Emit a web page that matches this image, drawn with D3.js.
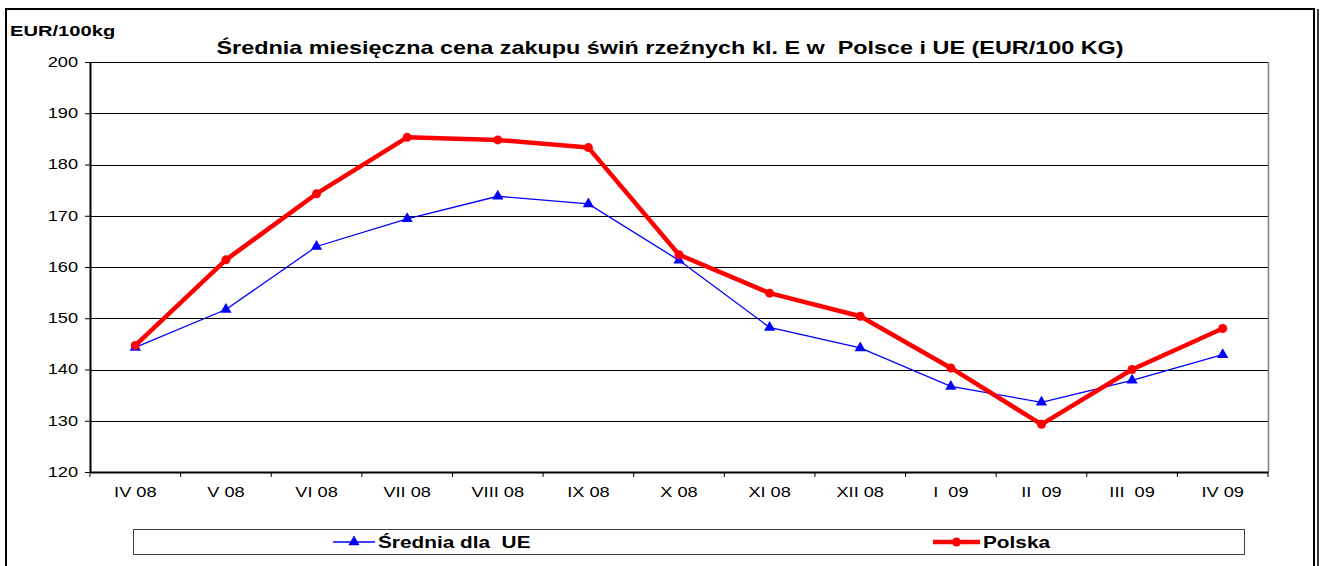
<!DOCTYPE html>
<html>
<head>
<meta charset="utf-8">
<script src="https://cdn.jsdelivr.net/npm/d3@7"></script>
<style>
  body { margin: 0; background: #fff; }
  svg { display: block; font-family: "Liberation Sans", Arial, sans-serif; }
  text { white-space: pre; }
</style>
</head>
<body>
<div id="chart"></div>
<script>
const months = ["IV 08", "V 08", "VI 08", "VII 08", "VIII 08", "IX 08", "X 08", "XI 08", "XII 08", "I  09", "II  09", "III  09", "IV 09"];
const euValues = [144.3, 151.7, 164.0, 169.4, 173.8, 172.3, 161.3, 148.2, 144.2, 136.7, 133.6, 137.9, 142.9];
const plValues = [144.7, 161.4, 174.3, 185.3, 184.8, 183.3, 162.4, 154.9, 150.4, 140.3, 129.3, 140.0, 148.0];
const yTicks = [120, 130, 140, 150, 160, 170, 180, 190, 200];
const seriesNames = ["Średnia dla  UE", "Polska"];

const width = 1324, height = 566;
const margin = {left: 90, right: 56, top: 62, bottom: 94};
const stretch = 1.3; // the original font renders wide

const svg = d3.select("#chart").append("svg")
    .attr("width", width)
    .attr("height", height);

// wide text: place at (x,y), scale horizontally
const wideText = (parent, x, y, size, bold, anchor, str) =>
    parent.append("text")
        .attr("transform", `translate(${x},${y}) scale(${stretch},1)`)
        .attr("text-anchor", anchor)
        .attr("font-size", size)
        .attr("font-weight", bold ? "bold" : "normal")
        .attr("fill", "#000")
        .text(str);

// outer frame
svg.append("path")
    .attr("d", `M6,${height + 5} V9 H1314 V${height + 5}`)
    .attr("fill", "none").attr("stroke", "#000").attr("stroke-width", 2);
svg.append("line")
    .attr("x1", 1318).attr("x2", 1318).attr("y1", 9).attr("y2", height + 5)
    .attr("stroke", "#000").attr("stroke-width", 1.5);

const x = d3.scaleBand()
    .domain(months)
    .range([margin.left, width - margin.right]);

const y = d3.scaleLinear()
    .domain([120, 200])
    .range([height - margin.bottom, margin.top]);

// gridlines
svg.append("g")
    .selectAll("line")
    .data(yTicks)
    .join("line")
    .attr("x1", margin.left).attr("x2", width - margin.right)
    .attr("y1", (d) => Math.round(y(d)) + 0.5).attr("y2", (d) => Math.round(y(d)) + 0.5)
    .attr("stroke", "#000").attr("stroke-width", 1);

// plot right border
svg.append("line")
    .attr("x1", width - margin.right + 0.5).attr("x2", width - margin.right + 0.5)
    .attr("y1", y(200)).attr("y2", y(120))
    .attr("stroke", "#808080").attr("stroke-width", 1.5);

// y axis
const yAxis = svg.append("g")
    .attr("transform", `translate(${margin.left},0)`)
    .call(d3.axisLeft(y).tickValues(yTicks).tickSize(5).tickSizeOuter(0).tickPadding(6));
yAxis.select(".domain").attr("stroke-width", 2);
yAxis.selectAll("text")
    .attr("font-size", 14).attr("fill", "#000")
    .attr("x", -12 / stretch)
    .attr("transform", `scale(${stretch},1)`);

// x axis
const xAxis = svg.append("g")
    .attr("transform", `translate(0,${y(120)})`)
    .call(d3.axisBottom(x).tickSize(0).tickPadding(15));
xAxis.select(".domain").attr("stroke-width", 2);
xAxis.selectAll("text")
    .attr("font-size", 14).attr("fill", "#000")
    .attr("transform", `scale(${stretch},1)`);

// x ticks at category boundaries
const bounds = months.map((m) => x(m)).concat([x(months[months.length - 1]) + x.bandwidth()]);
svg.append("g")
    .selectAll("line")
    .data(bounds)
    .join("line")
    .attr("x1", (d) => d).attr("x2", (d) => d)
    .attr("y1", y(120)).attr("y2", y(120) + 5)
    .attr("stroke", "#000").attr("stroke-width", 1);

const cx = (i) => x(months[i]) + x.bandwidth() / 2;

const line = d3.line()
    .x((d, i) => cx(i))
    .y((d) => y(d));

// EU series
svg.append("path")
    .datum(euValues)
    .attr("d", line)
    .attr("fill", "none")
    .attr("stroke", "#0000ff")
    .attr("stroke-width", 1.3);

const tri = d3.symbol().type(d3.symbolTriangle).size(55);
svg.append("g")
    .selectAll("path")
    .data(euValues)
    .join("path")
    .attr("d", tri)
    .attr("transform", (d, i) => `translate(${cx(i)},${y(d)})`)
    .attr("fill", "#0000ff");

// Polska series
svg.append("path")
    .datum(plValues)
    .attr("d", line)
    .attr("fill", "none")
    .attr("stroke", "#ff0000")
    .attr("stroke-width", 4.5)
    .attr("stroke-linejoin", "round");

svg.append("g")
    .selectAll("circle")
    .data(plValues)
    .join("circle")
    .attr("cx", (d, i) => cx(i))
    .attr("cy", (d) => y(d))
    .attr("r", 4.5)
    .attr("fill", "#ff0000");

// titles
wideText(svg, 670, 54, 18, true, "middle",
    "Średnia miesięczna cena zakupu świń rzeźnych kl. E w  Polsce i UE (EUR/100 KG)");
wideText(svg, 10, 36, 15.5, true, "start", "EUR/100kg");

// legend
const legend = svg.append("g");
legend.append("rect")
    .attr("x", 133.5).attr("y", 529.5)
    .attr("width", 1111).attr("height", 25)
    .attr("fill", "#fff").attr("stroke", "#404040").attr("stroke-width", 1);

const legendItems = [
    {name: seriesNames[0], x: 333, len: 42, color: "#0000ff", w: 1.3, marker: "tri"},
    {name: seriesNames[1], x: 933, len: 47, color: "#ff0000", w: 4.5, marker: "circle"}
];
const li = legend.selectAll(".legendItem")
    .data(legendItems)
    .join("g")
    .attr("class", "legendItem")
    .attr("transform", (d) => `translate(${d.x},542)`);
li.append("line")
    .attr("x1", 0).attr("x2", (d) => d.len)
    .attr("stroke", (d) => d.color)
    .attr("stroke-width", (d) => d.w);
li.filter((d) => d.marker === "tri").append("path")
    .attr("d", tri)
    .attr("transform", (d) => `translate(${d.len / 2},0)`)
    .attr("fill", (d) => d.color);
li.filter((d) => d.marker === "circle").append("circle")
    .attr("cx", (d) => d.len / 2).attr("r", 4.5)
    .attr("fill", (d) => d.color);
li.each(function (d) {
    wideText(d3.select(this), d.len + 3, 6, 16, true, "start", d.name);
});
</script>
</body>
</html>
